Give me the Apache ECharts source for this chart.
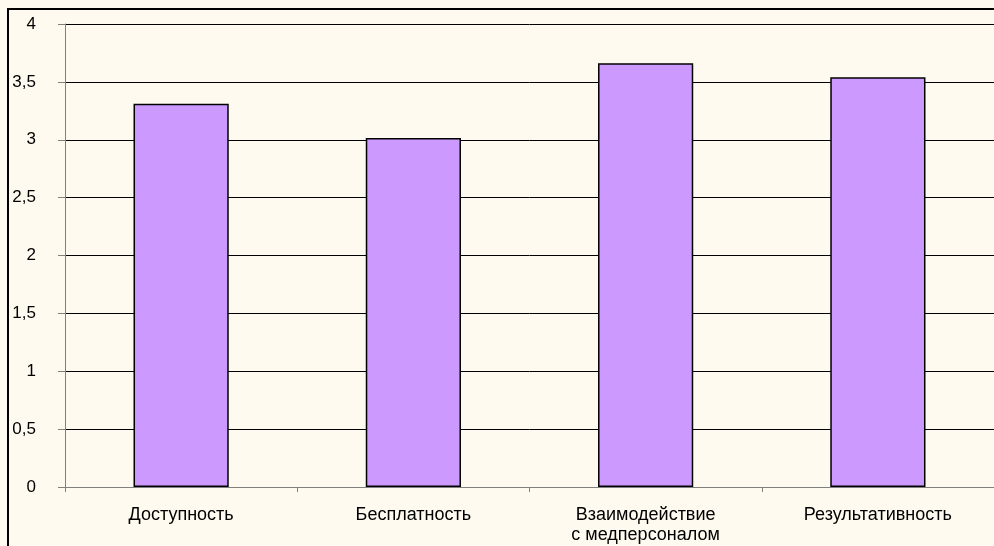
<!DOCTYPE html>
<html><head><meta charset="utf-8">
<script src="https://cdn.jsdelivr.net/npm/echarts@6/dist/echarts.min.js"></script>
<style>html,body{margin:0;padding:0;background:#FFFAF0;}#c{width:994px;height:546px;}</style>
</head><body><div id="c"></div>
<script>
var categories = ['Доступность', 'Бесплатность', 'Взаимодействие\nс медперсоналом', 'Результативность'];
var values = [3.31, 3.015, 3.66, 3.54];
var yTicks = [0, 0.5, 1, 1.5, 2, 2.5, 3, 3.5, 4];

var chart = echarts.init(document.getElementById('c'), null, {renderer: 'canvas'});
chart.setOption({
  backgroundColor: '#FFFAF0',
  animation: false,
  graphic: [{
    type: 'rect', shape: {x: 8, y: 9, width: 1000, height: 600},
    style: {fill: 'none', stroke: '#000', lineWidth: 2}, silent: true, z: 100
  }],
  grid: {left: 65, top: 24, width: 932, height: 463, containLabel: false},
  xAxis: {
    type: 'category', data: categories,
    axisLine: {lineStyle: {color: '#808080', width: 1}},
    axisTick: {show: true, length: 5, lineStyle: {color: '#808080'}},
    axisLabel: {color: '#000', fontFamily: 'Liberation Sans, Arial', fontSize: 18, margin: 18, lineHeight: 20}
  },
  yAxis: {
    type: 'value', min: 0, max: 4, interval: 0.5,
    axisLine: {show: true, lineStyle: {color: '#808080', width: 1}},
    axisTick: {show: true, length: 7, lineStyle: {color: '#808080'}},
    splitLine: {show: true, lineStyle: {color: '#000', width: 1}},
    axisLabel: {color: '#000', fontFamily: 'Liberation Sans, Arial', fontSize: 17, margin: 29,
      formatter: function (v) { return String(v).replace('.', ','); }}
  },
  series: [{
    type: 'bar', data: values, barWidth: '41%',
    itemStyle: {color: '#CC99FF', borderColor: '#000', borderWidth: 1.5}
  }]
});
</script></body></html>
